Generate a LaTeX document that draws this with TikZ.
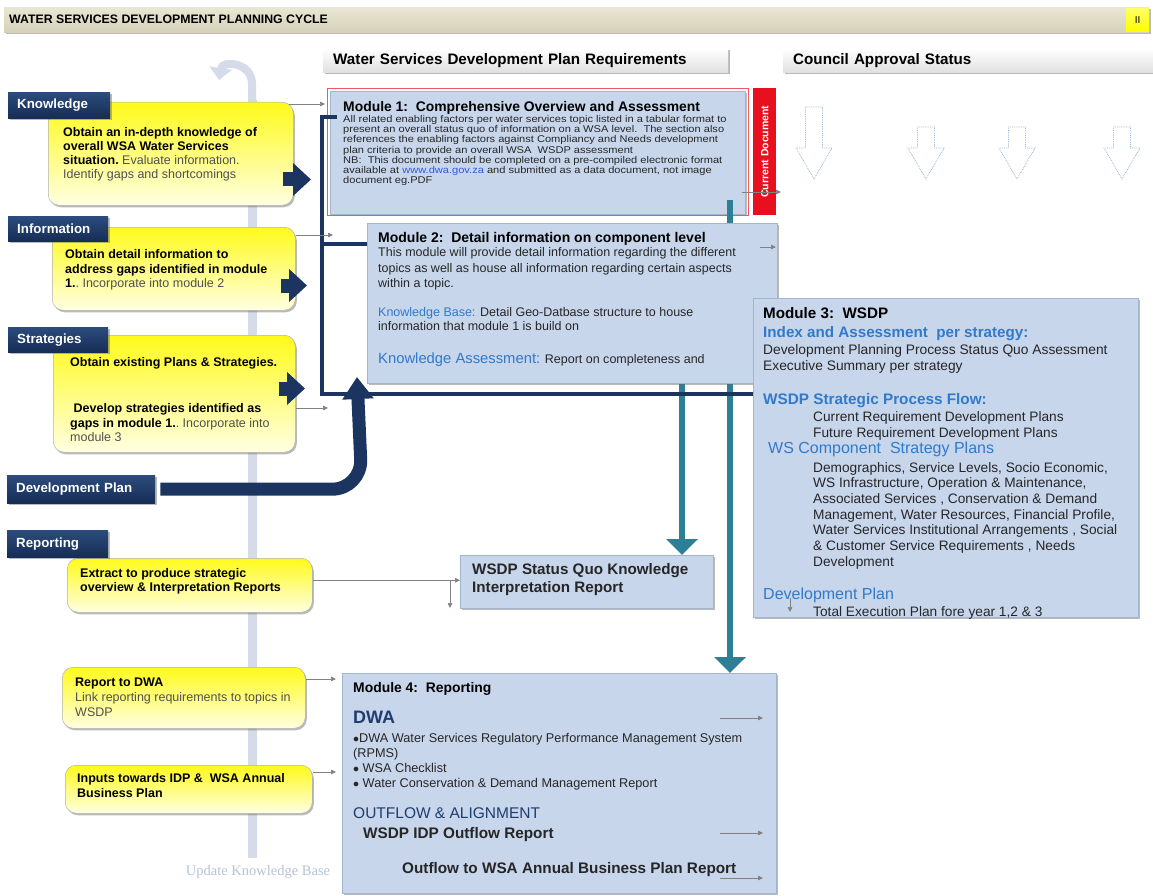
\documentclass[tikz,border=0pt]{standalone}
\usepackage{fontspec}
\setmainfont{Liberation Sans}
\newfontfamily\kbserif{Liberation Serif}
\newfontfamily\mwide[FakeStretch=1.13]{Liberation Sans}
\usetikzlibrary{arrows.meta,shadows,calc}

\definecolor{navy}{HTML}{1B3560}
\definecolor{tabtop}{HTML}{2C4C7D}
\definecolor{tabbot}{HTML}{162D55}
\definecolor{tealc}{HTML}{2C7F97}
\definecolor{modfill}{HTML}{C8D6EC}
\definecolor{modline}{HTML}{A3B4CE}
\definecolor{hblue}{HTML}{2F7ACB}
\definecolor{dwanavy}{HTML}{1F3D6E}
\definecolor{ytop}{HTML}{FFFA1A}
\definecolor{ybot}{HTML}{FFFFE2}
\definecolor{spinec}{HTML}{D5DBE8}
\definecolor{cardash}{HTML}{9DB5D0}
\definecolor{curred}{HTML}{E8101E}
\definecolor{txtgray}{HTML}{505050}
\definecolor{bodytxt}{HTML}{262626}
\definecolor{bartop}{HTML}{E9E6D3}
\definecolor{barbot}{HTML}{D6D2BA}
\definecolor{linkblue}{HTML}{2A5DD8}
\definecolor{kbgray}{HTML}{B7C3D6}

\newcommand\fsz[2]{\fontsize{#1}{#2}\selectfont}
\newcommand\lite[1]{{\mdseries\color{txtgray}#1}}

\tikzset{
  boxshadow/.style={drop shadow={shadow xshift=1.5pt,shadow yshift=-2pt,opacity=0.45,fill=black!60}},
  modbox/.style={anchor=north west, inner sep=0pt, fill=modfill, draw=modline, line width=0.6pt, boxshadow},
  ybox/.style={anchor=north west, inner sep=0pt, rounded corners=11pt, draw=black!30, line width=0.5pt, top color=ytop, bottom color=ybot, boxshadow},
  tab/.style={anchor=north west, inner ysep=0pt, inner xsep=9pt, align=left, top color=tabtop, bottom color=tabbot, text=white, font=\bfseries\fsz{13.3}{15}, boxshadow},
  headbox/.style={anchor=north west, inner xsep=10pt, inner ysep=0pt, align=left, top color=white, bottom color=black!12, font=\bfseries\fsz{15.2}{17}, boxshadow},
  txt/.style={anchor=north west, inner sep=0pt, align=left, text=bodytxt},
  ytxt/.style={anchor=north west, inner sep=0pt, align=left, text=black, font=\bfseries\fsz{12.5}{14}},
  thinarrow/.style={draw=black!50, line width=0.7pt, -{Triangle[length=5pt,width=4.5pt]}},
  busline/.style={draw=navy, line width=4pt},
  navyarrow/.style={draw=navy, line width=14pt, -{Triangle[length=18pt,width=32pt]}},
  dparrow/.style={draw=navy, line width=13pt, rounded corners=30pt, -{Triangle[length=22pt,width=30pt]}},
  tealarrow/.style={draw=tealc, line width=6pt, -{Triangle[length=16pt,width=31pt]}},
  council/.style={draw=cardash, densely dotted, line width=0.8pt},
}

\begin{document}
\begin{tikzpicture}[x=1pt,y=-1pt]
\useasboundingbox (0,0) rectangle (1153,896);
\fill[white] (0,0) rectangle (1153,896);

% ---- cycle spine with the return arrow on top ----
\coordinate (sp0) at (252,100);
\coordinate (sp1) at (252,858);
\draw[spinec, line width=9pt] (sp0) -- (sp1);
\draw[spinec, line width=8pt, -{Triangle[length=12pt,width=22pt]}]
  (sp0) -- (252,84) .. controls (252,62) and (222,60) .. (219,80);
\node[font=\kbserif\fsz{14.5}{16}, text=kbgray] (ukb) at (258,872) {Update Knowledge Base};

% ---- title bar ----
\node[anchor=north west, inner sep=0pt, minimum width=1145pt, minimum height=25pt,
      top color=bartop, bottom color=barbot, boxshadow] (bar) at (4,7) {};
\node[anchor=west, inner sep=0pt, font=\bfseries\fsz{12.3}{14}] (bartxt) at (9,19.5)
  {WATER SERVICES DEVELOPMENT PLANNING CYCLE};
\node[anchor=north west, inner sep=0pt, minimum width=23pt, minimum height=23pt,
      top color=yellow!60!white, bottom color=yellow, font=\fsz{10}{12}] (pg) at (1126,8) {II};

% ---- column headers ----
\node[headbox, text width=385pt, minimum height=24pt] (hreq) at (323,48)
  {Water Services Development Plan Requirements};
\node[headbox, text width=350pt, minimum height=24pt] (hcou) at (783,48)
  {Council Approval Status};

% ---- council approval placeholders ----
\foreach \xc/\tp in {814/107, 926/127, 1017/127, 1122/127}{
  \draw[council] (\xc-8.5,\tp) -- (\xc+8.5,\tp) -- (\xc+8.5,148) -- (\xc+18,148)
    -- (\xc,179) -- (\xc-18,148) -- (\xc-8.5,148) -- cycle;
}

% ---- module 1 ----
\node[modbox, minimum width=415pt, minimum height=123pt] (m1) at (330,91) {};
\node[anchor=north west, inner sep=0pt, draw=curred!70, line width=0.8pt,
      minimum width=421pt, minimum height=127pt] (m1frame) at (327,88) {};
\node[anchor=north west, inner sep=0pt, fill=curred, minimum width=23pt, minimum height=127pt] (cur) at (753,88) {};
\node[rotate=90, text=white, font=\bfseries\fsz{10.5}{12}] (curtxt) at (cur.center) {Current Document};

% ---- module 4 and status report box ----
\node[modbox, minimum width=434pt, minimum height=220pt] (m4) at (342,673) {};
\node[modbox, minimum width=253pt, minimum height=53pt] (sq) at (460,555) {};

% ---- teal flow arrows ----
\coordinate (tA) at (730,200);
\coordinate (tB) at (682,383);
\draw[tealarrow] (tA) -- (tA |- m4.north);
\draw[tealarrow] (tB) -- (tB |- sq.north);

% ---- modules 2 and 3 ----
\node[modbox, minimum width=410pt, minimum height=160pt] (m2) at (367,223) {};
\node[modbox, minimum width=385pt, minimum height=319pt] (m3) at (753,298) {};

% ---- navy bus into the modules ----
\coordinate (busTop) at (322,117);
\coordinate (busMid) at (322,244);
\coordinate (busBot) at (322,394);
\draw[busline] ([xshift=7pt]m1.west |- busTop) -- (busTop) -- (busBot) -- (busBot -| m3.west);
\draw[busline] (busMid) -- (busMid -| m2.west);

% ---- yellow activity boxes ----
\node[ybox, minimum width=245pt, minimum height=103pt] (kbox) at (48,102) {};
\node[ybox, minimum width=243pt, minimum height=83pt] (ibox) at (52,227) {};
\node[ybox, minimum width=242pt, minimum height=117pt] (sbox) at (53,335) {};
\node[ybox, minimum width=245pt, minimum height=54pt] (ebox) at (67,558) {};
\node[ybox, minimum width=243pt, minimum height=61pt] (rbox) at (62,667) {};
\node[ybox, minimum width=247pt, minimum height=48pt] (pbox) at (65,765) {};

% ---- phase tabs ----
\node[tab, text width=84pt, minimum height=26pt] (tknow) at (8,92) {Knowledge};
\node[tab, text width=82pt, minimum height=25pt] (tinfo) at (8,216) {Information};
\node[tab, text width=82pt, minimum height=25pt] (tstrat) at (8,327) {Strategies};
\node[tab, text width=130pt, minimum height=28pt] (tdev) at (7,475) {Development Plan};
\node[tab, text width=83pt, minimum height=27pt] (trep) at (7,530) {Reporting};

% ---- navy block arrows into the bus ----
\draw[navyarrow] ([shift={(-11pt,26pt)}]kbox.south east) -- ([shift={(-11pt,26pt)}]kbox.south east -| busTop);
\draw[navyarrow] ([shift={(-15pt,25pt)}]ibox.south east) -- ([shift={(-15pt,25pt)}]ibox.south east -| busTop);
\draw[navyarrow] ([shift={(-17pt,64pt)}]sbox.south east) -- ([shift={(-17pt,64pt)}]sbox.south east -| busTop);
\coordinate (dpup) at (357,377);
\draw[dparrow] ([xshift=5pt]tdev.east) -- ([xshift=5pt]tdev.east -| dpup) -- (dpup);

% ---- thin connectors ----
\coordinate (iend) at (333,235);
\coordinate (send) at (328,408);
\coordinate (rend) at (336,679);
\coordinate (pend) at (336,772);
\coordinate (sqdown) at (450,608);
\draw[thinarrow] ([shift={(-5pt,-2pt)}]kbox.north east) -- ([shift={(-5pt,-2pt)}]kbox.north east -| m1.west);
\draw[thinarrow] (ibox.east |- iend) -- (iend);
\draw[thinarrow] (sbox.east |- send) -- (send);
\draw[thinarrow] ([yshift=5pt]ebox.east) -- ([yshift=5pt]ebox.east -| sq.west);
\draw[thinarrow] ([yshift=5pt]ebox.east -| sqdown) -- (sqdown);
\draw[thinarrow] (rbox.east |- rend) -- (rend);
\draw[thinarrow] (pbox.east |- pend) -- (pend);
\coordinate (m1o) at (781,192);
\coordinate (m2o) at (776,247);
\coordinate (m3o) at (790,612);
\coordinate (m4a) at (763,718);
\coordinate (m4b) at (763,833);
\coordinate (m4c) at (763,878);
\draw[thinarrow] ([xshift=-4pt]m1.east |- m1o) -- (m1o);
\draw[thinarrow] ([xshift=-18pt]m2.east |- m2o) -- (m2o);
\draw[thinarrow] ([yshift=14pt]m3o) -- (m3o);
\draw[thinarrow] ([xshift=-43pt]m4a) -- (m4a);
\draw[thinarrow] ([xshift=-43pt]m4b) -- (m4b);
\draw[thinarrow] ([xshift=-43pt]m4c) -- (m4c);

% ---- texts in the yellow boxes ----
\node[ytxt] (ktx) at (63,127.4) {Obtain an in-depth knowledge of\\overall WSA Water Services\\situation.\ \lite{Evaluate information.}\\\lite{Identify gaps and shortcomings}};
\node[ytxt, font=\bfseries\fsz{12.5}{14.5}] (itx) at (65,249.4) {Obtain detail information to\\address gaps identified in module\\1.\lite{.\ Incorporate into module 2}};
\node[ytxt] (stx1) at (70,357.4) {Obtain existing Plans \& Strategies.};
\node[ytxt, font=\bfseries\fsz{12.5}{14.5}] (stx2) at (70,403.4) {\ Develop strategies identified as\\gaps in module 1.\lite{.\ Incorporate into}\\\lite{module 3}};
\node[ytxt] (etx) at (80,568.4) {Extract to produce strategic\\overview \& Interpretation Reports};
\node[ytxt, font=\bfseries\fsz{12.5}{15}] (rtx) at (75,677.4) {Report to DWA\\\lite{Link reporting requirements to topics in}\\\lite{WSDP}};
\node[ytxt, font=\bfseries\fsz{12.5}{15}] (ptx) at (77,773.4) {Inputs towards IDP \&\ \ WSA Annual\\Business Plan};

% ---- module 1 text ----
\node[txt, font=\bfseries\fsz{13.9}{16}, text=black] (m1t) at (343,100.9) {Module 1:\ \ Comprehensive Overview and Assessment};
\node[txt, font=\mwide\fsz{9.8}{9}] (m1b) at (343,115.4) {All related enabling factors per water services topic listed in a tabular format to\\
present an overall status quo of information on a WSA level.\ \ The section also\\
references the enabling factors against Compliancy and Needs development\\
plan criteria to provide an overall WSA\ \ WSDP assessment\\
NB:\ \ This document should be completed on a pre-compiled electronic format\\
available at \textcolor{linkblue}{www.dwa.gov.za} and submitted as a data document, not image\\
document eg.PDF};

% ---- module 2 text ----
\node[txt, font=\bfseries\fsz{14}{16}, text=black] (m2t) at (378,231.8) {Module 2:\ \ Detail information on component level};
\node[txt, font=\fsz{12.5}{15.5}] (m2b) at (378,247.4) {This module will provide detail information regarding the different\\topics as well as house all information regarding certain aspects\\within a topic.};
\node[txt, font=\fsz{12.5}{14}] (m2kb) at (378,307.4) {\textcolor{hblue}{Knowledge Base:} Detail Geo-Datbase structure to house\\information that module 1 is build on};
\node[txt, font=\fsz{12.5}{14}] (m2ka) at (378,352.6) {\textcolor{hblue}{\fsz{14.8}{16}Knowledge Assessment:} Report on completeness and};

% ---- module 3 text ----
\node[txt, font=\bfseries\fsz{15.2}{17}, text=black] (m3t) at (763,307.4) {Module 3:\ \ WSDP};
\node[txt, font=\bfseries\fsz{15.2}{17}, text=hblue] (m3i) at (763,326.4) {Index and Assessment\ \ per strategy:};
\node[txt, font=\fsz{13.8}{16}] (m3d) at (763,343.9) {Development Planning Process Status Quo Assessment\\Executive Summary per strategy};
\node[txt, font=\bfseries\fsz{15.3}{17}, text=hblue] (m3f) at (763,393.3) {WSDP Strategic Process Flow:};
\node[txt, font=\fsz{13.7}{16}] (m3c) at (813,410.9) {Current Requirement Development Plans\\Future Requirement Development Plans};
\node[txt, font=\fsz{16}{18}, text=hblue] (m3w) at (768,442.1) {WS Component\ \ Strategy Plans};
\node[txt, font=\fsz{13.7}{15.7}] (m3l) at (813,461.9) {Demographics, Service Levels, Socio Economic,\\WS Infrastructure, Operation \& Maintenance,\\Associated Services , Conservation \& Demand\\Management, Water Resources, Financial Profile,\\Water Services Institutional Arrangements , Social\\\& Customer Service Requirements , Needs\\Development};
\node[txt, font=\fsz{16}{18}, text=hblue] (m3p) at (763,588.1) {Development Plan};
\node[txt, font=\fsz{13.7}{16}] (m3e) at (813,605.9) {Total Execution Plan fore year 1,2 \& 3};

% ---- status report text ----
\node[txt, font=\bfseries\fsz{15.2}{18}, text=black!85] (sqt) at (472,563.4) {WSDP Status Quo Knowledge\\Interpretation Report};

% ---- module 4 text ----
\node[txt, font=\bfseries\fsz{13.9}{16}, text=black] (m4t) at (353,681.9) {Module 4:\ \ Reporting};
\node[txt, font=\bfseries\fsz{18}{20}, text=dwanavy] (m4d) at (353,711.3) {DWA};
\node[txt, font=\fsz{12.7}{15}] (m4l) at (353,733.3) {$\bullet$DWA Water Services Regulatory Performance Management System\\(RPMS)\\$\bullet$ WSA Checklist\\$\bullet$ Water Conservation \& Demand Management Report};
\node[txt, font=\fsz{15.5}{17}, text=dwanavy] (m4o) at (353,807.3) {OUTFLOW \& ALIGNMENT};
\node[txt, font=\bfseries\fsz{15.3}{17}, text=black!85] (m4i) at (363,827.3) {WSDP IDP Outflow Report};
\node[txt, font=\bfseries\fsz{15.3}{17}, text=black!85] (m4b2) at (402,862.3) {Outflow to WSA Annual Business Plan Report};
\end{tikzpicture}
\end{document}
